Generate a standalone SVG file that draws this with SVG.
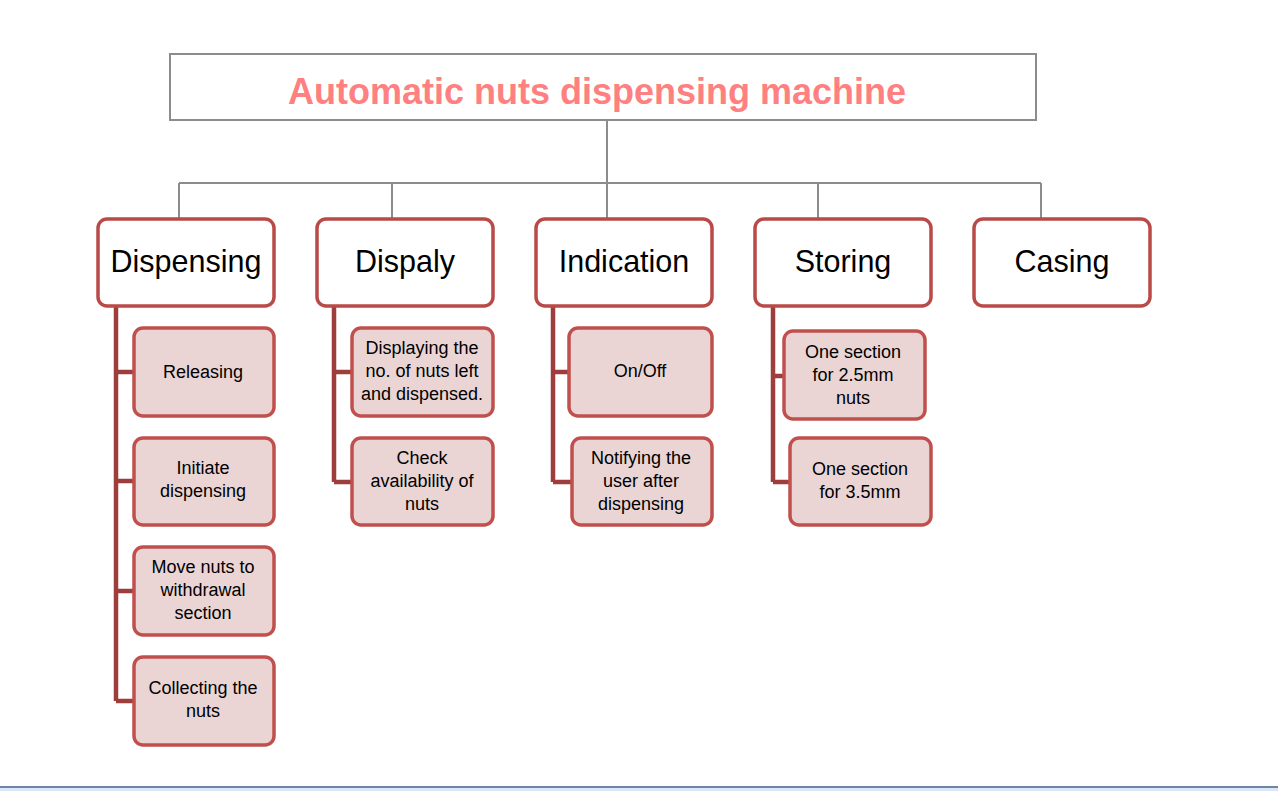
<svg xmlns="http://www.w3.org/2000/svg" width="1278" height="791" viewBox="0 0 1278 791">
<style>
.bg{fill:#ffffff}
.title-box{fill:#ffffff;stroke:#8c8c8c;stroke-width:2}
.title{font-family:"Liberation Sans",Arial,sans-serif;font-weight:bold;font-size:36px;fill:#ff8080;text-anchor:middle}
.main{fill:#ffffff;stroke:#b94a48;stroke-width:3.5}
.main-t{font-family:"Liberation Sans",Arial,sans-serif;font-size:30.5px;fill:#000000;text-anchor:middle}
.child{fill:#ead5d4;stroke:#c0504d;stroke-width:3.5}
.child-t{font-family:"Liberation Sans",Arial,sans-serif;font-size:18px;fill:#000000;text-anchor:middle}
.gray{fill:none;stroke:#8c8c8c;stroke-width:2}
.tree{fill:none;stroke:#9e3e3c;stroke-width:4.5}
</style>
<rect class="bg" x="0" y="0" width="1278" height="791"/>
<g id="connectors">
<path class="gray" d="M607,120 V183 M179,183 H1041 M179,183 V219 M392,183 V219 M607,183 V219 M818,183 V219 M1041,183 V219"/>
<path class="tree" d="M116,306 V701 M116,372 H134 M116,481 H134 M116,591 H134 M116,701 H134"/>
<path class="tree" d="M334,306 V482 M334,372 H352 M334,482 H352"/>
<path class="tree" d="M553,306 V482 M553,372 H569 M553,482 H572"/>
<path class="tree" d="M773,306 V482 M773,376 H784 M773,482 H790"/>
</g>
<g id="title">
<rect class="title-box" x="170" y="54" width="866" height="66"/>
<text class="title" x="597" y="104">Automatic nuts dispensing machine</text>
</g>
<g id="dispensing">
<rect class="main" x="98" y="219" width="176" height="87" rx="9"/>
<text class="main-t" x="186" y="272">Dispensing</text>
</g>
<g id="dispaly">
<rect class="main" x="317" y="219" width="176" height="87" rx="9"/>
<text class="main-t" x="405" y="272">Dispaly</text>
</g>
<g id="indication">
<rect class="main" x="536" y="219" width="176" height="87" rx="9"/>
<text class="main-t" x="624" y="272">Indication</text>
</g>
<g id="storing">
<rect class="main" x="755" y="219" width="176" height="87" rx="9"/>
<text class="main-t" x="843" y="272">Storing</text>
</g>
<g id="casing">
<rect class="main" x="974" y="219" width="176" height="87" rx="9"/>
<text class="main-t" x="1062" y="272">Casing</text>
</g>
<g id="releasing">
<rect class="child" x="134" y="328" width="140" height="88" rx="9"/>
<text class="child-t" x="203" y="378">Releasing</text>
</g>
<g id="initiate">
<rect class="child" x="134" y="438" width="140" height="87" rx="9"/>
<text class="child-t" x="203" y="474">Initiate</text>
<text class="child-t" x="203" y="497">dispensing</text>
</g>
<g id="move">
<rect class="child" x="134" y="547" width="140" height="88" rx="9"/>
<text class="child-t" x="203" y="573">Move nuts to</text>
<text class="child-t" x="203" y="596">withdrawal</text>
<text class="child-t" x="203" y="619">section</text>
</g>
<g id="collecting">
<rect class="child" x="134" y="657" width="140" height="88" rx="9"/>
<text class="child-t" x="203" y="694">Collecting the</text>
<text class="child-t" x="203" y="717">nuts</text>
</g>
<g id="displaying">
<rect class="child" x="352" y="328" width="141" height="88" rx="9"/>
<text class="child-t" x="422" y="354">Displaying the</text>
<text class="child-t" x="422" y="377">no. of nuts left</text>
<text class="child-t" x="422" y="400">and dispensed.</text>
</g>
<g id="check">
<rect class="child" x="352" y="438" width="141" height="87" rx="9"/>
<text class="child-t" x="422" y="464">Check</text>
<text class="child-t" x="422" y="487">availability of</text>
<text class="child-t" x="422" y="510">nuts</text>
</g>
<g id="onoff">
<rect class="child" x="569" y="328" width="143" height="88" rx="9"/>
<text class="child-t" x="640" y="377">On/Off</text>
</g>
<g id="notifying">
<rect class="child" x="572" y="438" width="140" height="87" rx="9"/>
<text class="child-t" x="641" y="464">Notifying the</text>
<text class="child-t" x="641" y="487">user after</text>
<text class="child-t" x="641" y="510">dispensing</text>
</g>
<g id="section25">
<rect class="child" x="784" y="331" width="141" height="88" rx="9"/>
<text class="child-t" x="853" y="358">One section</text>
<text class="child-t" x="853" y="381">for 2.5mm</text>
<text class="child-t" x="853" y="404">nuts</text>
</g>
<g id="section35">
<rect class="child" x="790" y="438" width="141" height="87" rx="9"/>
<text class="child-t" x="860" y="475">One section</text>
<text class="child-t" x="860" y="498">for 3.5mm</text>
</g>
<g id="statusbar">
<rect x="0" y="786" width="1278" height="2" fill="#6d86a8"/>
<rect x="0" y="788" width="1278" height="3" fill="#dbe7f6"/>
</g>
</svg>
